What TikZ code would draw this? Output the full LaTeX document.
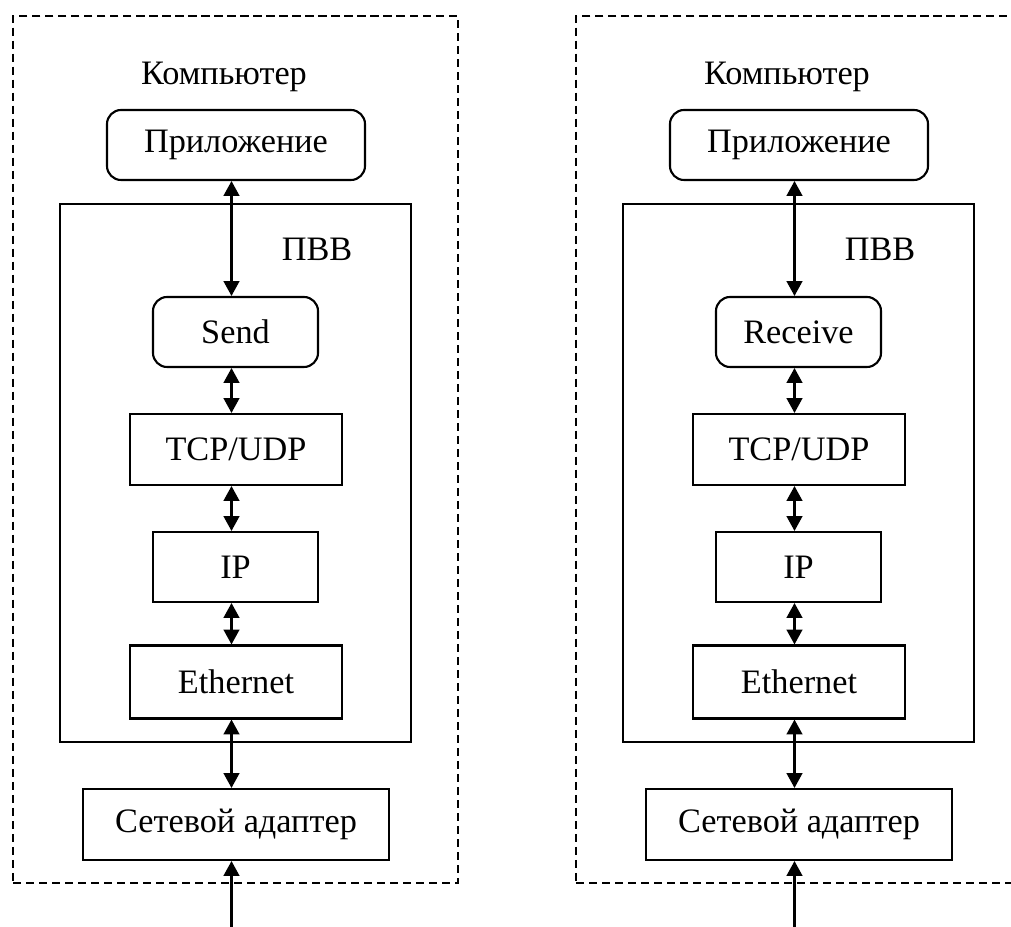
\documentclass[tikz,border=0pt]{standalone}
\usepackage{fontspec}
\setmainfont{Liberation Serif}
\usetikzlibrary{arrows.meta}

\tikzset{
  frame/.style={draw, dash pattern=on 4.6pt off 2.8pt, line width=1.2pt},
  layer/.style={draw, line width=1.2pt, minimum height=1.4cm, inner sep=0pt},
  rlayer/.style={layer, rounded corners=8pt},
}

\begin{document}
\begin{tikzpicture}[font=\fontsize{19.5}{23}\selectfont, line width=1.2pt,
  >={Triangle[length=8.5pt,width=9pt]}]
\clip (0,0) rectangle (20.22,-18.54);

% left computer: sender
\node[frame, minimum width=8.9cm, minimum height=17.34cm] (pcL) at (4.71,-8.99) {};
\node (compL) at (4.48,-1.53) {Компьютер};
\node[rlayer, minimum width=5.16cm] (appL) at (4.72,-2.9) {Приложение};
\node[layer, minimum width=7.02cm, minimum height=10.76cm] (hostL) at (4.71,-9.46) {};
\node (pvvL) at (6.34,-4.99) {ПВВ};
\node[rlayer, minimum width=3.3cm] (sendL) at (4.71,-6.64) {Send};
\node[layer, minimum width=4.24cm, minimum height=1.42cm] (tcpL) at (4.72,-8.99) {TCP/UDP};
\node[layer, minimum width=3.3cm] (ipL) at (4.71,-11.34) {IP};
\node[layer, minimum width=4.24cm, minimum height=1.46cm] (ethL) at (4.72,-13.64) {Ethernet};
\node[layer, minimum width=6.12cm, minimum height=1.42cm] (netL) at (4.72,-16.49) {Сетевой адаптер};

\coordinate (axL) at (4.63,0);
\coordinate (inL) at (4.63,-18.7);
\draw[<->] (axL |- appL.south) -- (axL |- sendL.north);
\draw[<->] (axL |- sendL.south) -- (axL |- tcpL.north);
\draw[<->] (axL |- tcpL.south) -- (axL |- ipL.north);
\draw[<->] (axL |- ipL.south) -- (axL |- ethL.north);
\draw[<->] (axL |- ethL.south) -- (axL |- netL.north);
\draw[->] (inL) -- (axL |- netL.south);

% right computer: receiver
\begin{scope}[xshift=11.26cm]
\node[frame, minimum width=8.9cm, minimum height=17.34cm] (pcR) at (4.71,-8.99) {};
\node (compR) at (4.48,-1.53) {Компьютер};
\node[rlayer, minimum width=5.16cm] (appR) at (4.72,-2.9) {Приложение};
\node[layer, minimum width=7.02cm, minimum height=10.76cm] (hostR) at (4.71,-9.46) {};
\node (pvvR) at (6.34,-4.99) {ПВВ};
\node[rlayer, minimum width=3.3cm] (recvR) at (4.71,-6.64) {Receive};
\node[layer, minimum width=4.24cm, minimum height=1.42cm] (tcpR) at (4.72,-8.99) {TCP/UDP};
\node[layer, minimum width=3.3cm] (ipR) at (4.71,-11.34) {IP};
\node[layer, minimum width=4.24cm, minimum height=1.46cm] (ethR) at (4.72,-13.64) {Ethernet};
\node[layer, minimum width=6.12cm, minimum height=1.42cm] (netR) at (4.72,-16.49) {Сетевой адаптер};

\coordinate (axR) at (4.63,0);
\coordinate (inR) at (4.63,-18.7);
\draw[<->] (axR |- appR.south) -- (axR |- recvR.north);
\draw[<->] (axR |- recvR.south) -- (axR |- tcpR.north);
\draw[<->] (axR |- tcpR.south) -- (axR |- ipR.north);
\draw[<->] (axR |- ipR.south) -- (axR |- ethR.north);
\draw[<->] (axR |- ethR.south) -- (axR |- netR.north);
\draw[->] (inR) -- (axR |- netR.south);
\end{scope}
\end{tikzpicture}
\end{document}
